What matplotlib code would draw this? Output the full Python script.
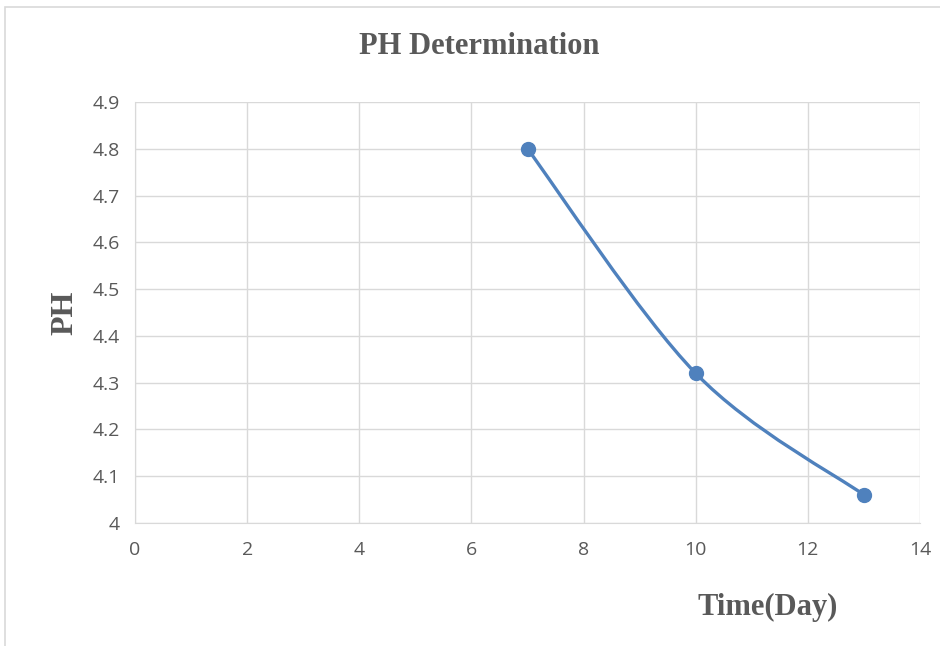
import matplotlib
matplotlib.use("Agg")
import matplotlib.pyplot as plt
import numpy as np
from matplotlib.path import Path
from matplotlib.patches import PathPatch, Rectangle

days = [7, 10, 13]
ph = [4.80, 4.32, 4.06]
x_ticks = [0, 2, 4, 6, 8, 10, 12, 14]
y_ticks = [4.0, 4.1, 4.2, 4.3, 4.4, 4.5, 4.6, 4.7, 4.8, 4.9]
y_tick_labels = ["4", "4.1", "4.2", "4.3", "4.4", "4.5", "4.6", "4.7", "4.8", "4.9"]
title = "PH Determination"
xlabel = "Time(Day)"
ylabel = "PH"

line_color = "#4f81bd"
grid_color = "#d9d9d9"
text_color = "#595959"

fig = plt.figure(figsize=(9.4, 6.46), dpi=100)
ax = fig.add_axes([135/940, 1-523/646, (920-135)/940, (523-102)/646])

# outer light border
fig.patches.append(Rectangle((5/940, -0.1), 1.2, 1 - 7/646 + 0.1, transform=fig.transFigure,
                             fill=False, edgecolor="#d9d9d9", linewidth=1.2))

# smooth curve (Excel-style Bezier through data points)
P = np.column_stack([days, ph]).astype(float)
n = len(P)
verts = [tuple(P[0])]
codes = [Path.MOVETO]
for i in range(n - 1):
    p0 = P[i - 1] if i > 0 else P[i]
    p1 = P[i]
    p2 = P[i + 1]
    p3 = P[i + 2] if i + 2 < n else P[i + 1]
    c1 = p1 + (p2 - p0) / 6.0
    c2 = p2 - (p3 - p1) / 6.0
    verts += [tuple(c1), tuple(c2), tuple(p2)]
    codes += [Path.CURVE4] * 3
ax.add_patch(PathPatch(Path(verts, codes), facecolor="none", edgecolor=line_color,
                       linewidth=2.4, zorder=3, capstyle="round"))
ax.plot(days, ph, linestyle="none", marker="o", markersize=10,
        color=line_color, zorder=4, clip_on=False)

ax.set_xlim(0, 14)
ax.set_ylim(4.0, 4.9)
ax.set_xticks(x_ticks)
ax.set_yticks(y_ticks)
ax.set_yticklabels(y_tick_labels)
ax.grid(True, color=grid_color, linewidth=1.0)
ax.set_axisbelow(True)
for s in ["top", "right"]:
    ax.spines[s].set_visible(False)
ax.spines["left"].set_color(grid_color)
ax.spines["bottom"].set_color(grid_color)
ax.tick_params(axis="y", length=0, pad=11, labelsize=14, labelcolor=text_color)
ax.tick_params(axis="x", length=0, pad=13, labelsize=14, labelcolor=text_color)
for lab in ax.get_xticklabels() + ax.get_yticklabels():
    lab.set_family(["Open Sans", "DejaVu Sans"])

fig.text(479/940, 1-47/646, title, ha="center", va="center",
         fontsize=22, fontweight="bold", family="Liberation Serif", color=text_color)
fig.text(768/940, 1-607/646, xlabel, ha="center", va="center",
         fontsize=22, fontweight="bold", family="Liberation Serif", color=text_color)
fig.text(65/940, 1-313/646, ylabel, ha="center", va="center", rotation=90,
         fontsize=23, fontweight="bold", family="Liberation Serif", color=text_color)

fig.savefig("out.png", dpi=100, facecolor="white")
